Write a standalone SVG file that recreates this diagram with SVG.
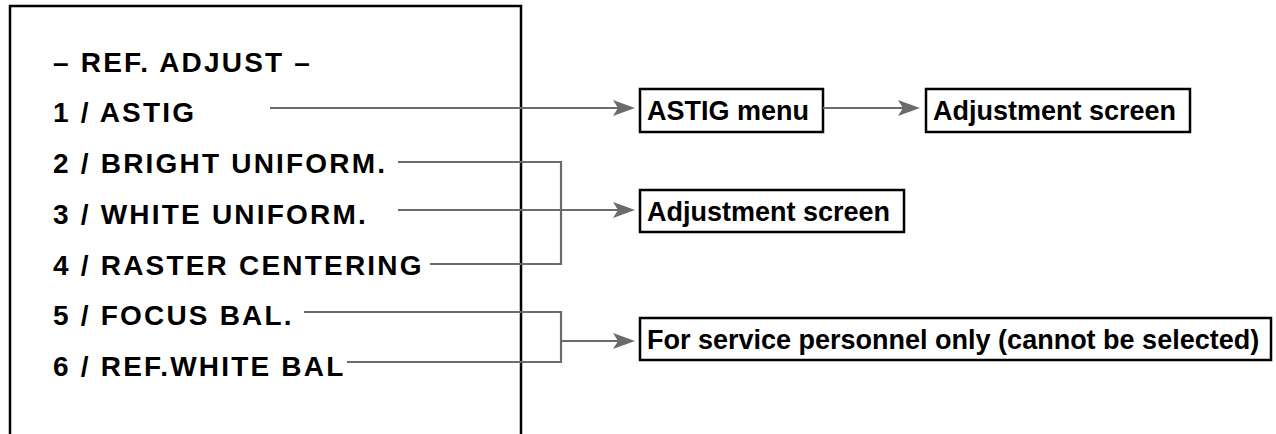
<svg xmlns="http://www.w3.org/2000/svg" width="1276" height="434" viewBox="0 0 1276 434">
  <style>
    .menu { font-family: "Liberation Sans", Arial, sans-serif; font-weight: bold; font-size: 28px; letter-spacing: 2.2px; fill: #000; }
    .lbl { font-family: "Liberation Sans", Arial, sans-serif; font-weight: bold; font-size: 27px; fill: #000; }
    .box { fill: #fff; stroke: #000; stroke-width: 2.5; }
    .frame { fill: none; stroke: #000; stroke-width: 2.5; }
    .conn { fill: none; stroke: #6b6b6b; stroke-width: 2.2; }
  </style>
  <defs>
    <marker id="arrow" viewBox="0 0 22 16" refX="12" refY="8" markerWidth="22" markerHeight="16" markerUnits="userSpaceOnUse" orient="auto">
      <path d="M0,0 L22,8 L0,16 L5,8 z" fill="#6b6b6b"/>
    </marker>
  </defs>

  <g id="menu-screen">
    <path class="frame" d="M10,440 L10,6 L521,6 L521,440"/>
    <text class="menu" x="53" y="72">– REF. ADJUST –</text>
  </g>
  <g id="item1"><text class="menu" x="53" y="122">1 / ASTIG</text></g>
  <g id="item2"><text class="menu" x="53" y="173">2 / BRIGHT UNIFORM.</text></g>
  <g id="item3"><text class="menu" x="53" y="224">3 / WHITE UNIFORM.</text></g>
  <g id="item4"><text class="menu" x="53" y="275">4 / RASTER CENTERING</text></g>
  <g id="item5"><text class="menu" x="53" y="325">5 / FOCUS BAL.</text></g>
  <g id="item6"><text class="menu" x="53" y="376">6 / REF.WHITE BAL</text></g>

  <g id="astig-menu">
    <rect class="box" x="640" y="89" width="183" height="43"/>
    <text class="lbl" x="647" y="120">ASTIG menu</text>
  </g>
  <g id="astig-adjust">
    <rect class="box" x="926" y="89" width="264" height="43"/>
    <text class="lbl" x="933" y="120">Adjustment screen</text>
  </g>
  <g id="adjust-screen">
    <rect class="box" x="640" y="190" width="264" height="42"/>
    <text class="lbl" x="647" y="221">Adjustment screen</text>
  </g>
  <g id="service-only">
    <rect class="box" x="640" y="318" width="631" height="42"/>
    <text class="lbl" x="647" y="349">For service personnel only (cannot be selected)</text>
  </g>

  <g id="connectors">
    <line class="conn" x1="270" y1="108" x2="625" y2="108" marker-end="url(#arrow)"/>
    <line class="conn" x1="823" y1="108" x2="910" y2="108" marker-end="url(#arrow)"/>
    <polyline class="conn" points="398,162 561,162 561,264 430,264"/>
    <line class="conn" x1="398" y1="210" x2="625" y2="210" marker-end="url(#arrow)"/>
    <polyline class="conn" points="304,312 561,312 561,362 347,362"/>
    <line class="conn" x1="561" y1="341" x2="625" y2="341" marker-end="url(#arrow)"/>
  </g>
</svg>
